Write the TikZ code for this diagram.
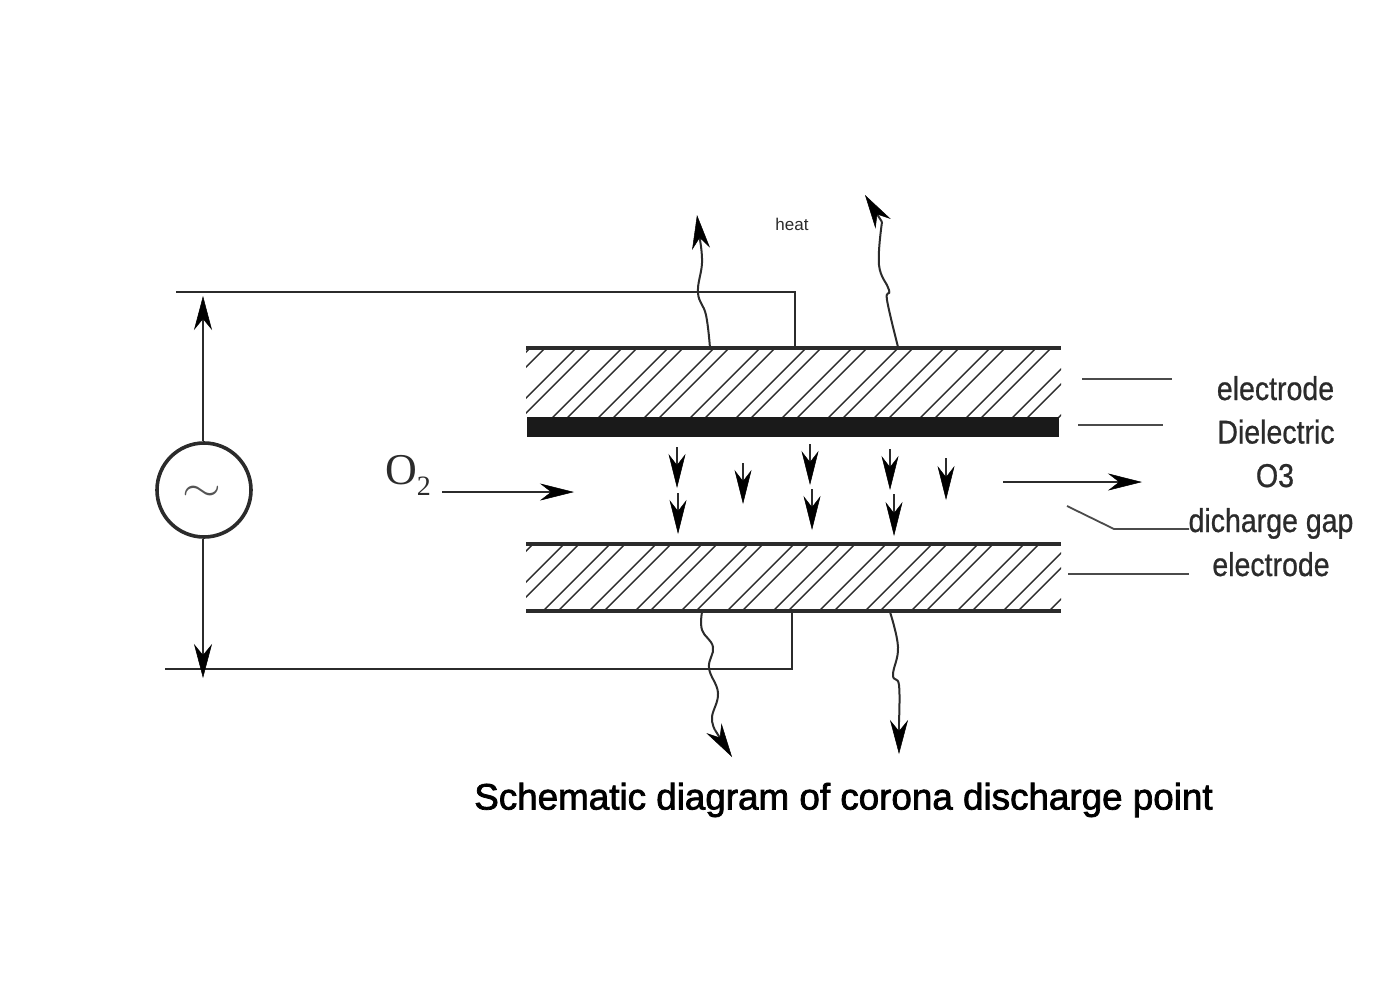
\documentclass[tikz,border=0pt]{standalone}
\usepackage{fontspec}
\setmainfont{Liberation Sans}
\newfontfamily\serifface{Liberation Serif}
\newfontfamily\capface[FakeBold=2]{Liberation Sans}
\newfontfamily\partface[FakeBold=0.8]{Liberation Sans}
\usetikzlibrary{arrows.meta}
\definecolor{ink}{HTML}{2B2B2B}
\tikzset{
  wire/.style={draw=ink,line width=2pt},
  plate/.style={draw=ink,line width=3.5pt},
  hatch/.style={draw=ink,line width=1.4pt},
  bighead/.style={wire,-{Stealth[length=34pt,width=18pt,inset=11pt,color=black,fill=black,line width=0.5pt]}},
  smallhead/.style={wire,-{Stealth[length=34pt,width=17pt,inset=11pt,color=black,fill=black,line width=0.5pt]}},
  sidehead/.style={wire,-{Stealth[length=34pt,width=17pt,inset=11pt,color=black,fill=black,line width=0.5pt]}},
  wavy/.style={draw=ink,line width=2pt},
  leader/.style={draw=ink!85,line width=1.8pt},
  partlabel/.style={font=\partface\fontsize{33}{36}\selectfont,text=ink,inner sep=0pt,anchor=base},
}
\newcommand{\narrowed}[1]{\scalebox{0.864}[1]{#1}}
\begin{document}
\begin{tikzpicture}[x=1pt,y=-1pt]
\useasboundingbox (0,0) rectangle (1397,988);
% source
\node[circle,draw=ink,line width=3.6pt,minimum size=94pt,inner sep=0pt,text=ink!80] (src) at (204,490) {};
\node[text=ink!80,inner sep=0pt] (tilde) at (202,494) {\scalebox{5}[4.2]{$\sim$}};
\coordinate (topL) at (176,292);
\coordinate (topC) at (795,292);
\coordinate (topE) at (795,348);
\coordinate (botL) at (165,669);
\coordinate (botC) at (792,669);
\coordinate (botE) at (792,611);
\draw[wire] (topL) -- (topC) -- (topE);
\draw[wire] (botL) -- (botC) -- (botE);
\coordinate (upT) at (203,296);
\coordinate (dnT) at (203,678);
\draw[bighead] (upT |- src.north) -- (upT);
\draw[bighead] (dnT |- src.south) -- (dnT);
% upper electrode hatch
\begin{scope}
\clip (526,348) rectangle (1061,417);
\foreach \k in {-2,...,12}{
  \pgfmathsetmacro{\xa}{552+46*\k}
  \pgfmathsetmacro{\xb}{567+46*\k}
  \draw[hatch] (\xa,418) -- ++(72,-72);
  \draw[hatch] (\xb,418) -- ++(72,-72);
}
\end{scope}
\draw[plate] (526,348) -- (1061,348);
\fill[ink!60!black] (527,417) rectangle (1059,437);
% lower electrode hatch
\begin{scope}
\clip (526,544) rectangle (1061,611);
\foreach \k in {-5,...,9}{
  \pgfmathsetmacro{\xa}{680+46*\k}
  \pgfmathsetmacro{\xb}{695+46*\k}
  \draw[hatch] (\xa,612) -- ++(72,-72);
  \draw[hatch] (\xb,612) -- ++(72,-72);
}
\end{scope}
\draw[plate] (526,544) -- (1061,544);
\draw[plate] (526,611) -- (1061,611);
% heat arrows
\draw[wavy] plot[smooth,tension=0.7] coordinates {(710,348) (706,315) (698,293) (702,263) (700,240)};
\draw[bighead] (700,240) -- (697,215);
\draw[wavy] plot[smooth,tension=0.7] coordinates {(898,347) (887,300) (889,290) (879,265) (882,222)};
\draw[bighead] (882,222) -- (865,195);
\draw[wavy] plot[smooth,tension=0.7] coordinates {(702,612) (702,630) (713,647) (709,668) (718,693) (712,717) (715,730)};
\draw[bighead] (715,730) -- (732,757);
\draw[wavy] plot[smooth,tension=0.7] coordinates {(890,612) (898,647) (893,675) (899,685) (899,722)};
\draw[bighead] (899,722) -- (899,754);
% discharge arrows
\draw[smallhead] (677,447) -- (677,488);
\draw[smallhead] (678,493) -- (678,534);
\draw[smallhead] (743,463) -- (743,504);
\draw[smallhead] (810,444) -- (810,485);
\draw[smallhead] (812,489) -- (812,530);
\draw[smallhead] (890,449) -- (890,490);
\draw[smallhead] (894,494) -- (894,536);
\draw[smallhead] (946,458) -- (946,500);
% flow arrows
\node[font=\fontsize{44}{46}\selectfont\serifface,text=ink,inner sep=0pt,anchor=base west] (o2) at (385,484) {O\raisebox{-11pt}{\fontsize{28}{30}\selectfont 2}};
\coordinate (inS) at (442,492);
\coordinate (inT) at (574,492);
\draw[sidehead] (inS) -- (inT);
\coordinate (outS) at (1003,482);
\coordinate (outT) at (1142,482);
\draw[sidehead] (outS) -- (outT);
% labels
\node[partlabel] (l1) at (1275.5,400) {\narrowed{electrode}};
\node[partlabel] (l2) at (1276,443.5) {\narrowed{Dielectric}};
\node[partlabel] (l3) at (1275,487) {\narrowed{O3}};
\node[partlabel] (l4) at (1271,532) {\narrowed{dicharge gap}};
\node[partlabel] (l5) at (1271,576) {\narrowed{electrode}};
\coordinate (p1) at (1082,379);
\coordinate (q1) at (1172,379);
\draw[leader] (p1) -- (q1);
\coordinate (p2) at (1078,425);
\coordinate (q2) at (1163,425);
\draw[leader] (p2) -- (q2);
\coordinate (p4) at (1067,506);
\coordinate (k4) at (1114,529);
\coordinate (q4) at (1189,529);
\draw[leader] (p4) -- (k4) -- (q4);
\coordinate (p5) at (1068,574);
\coordinate (q5) at (1189,574);
\draw[leader] (p5) -- (q5);
\node[font=\fontsize{17}{19}\selectfont,text=ink,inner sep=0pt] (heat) at (792,224) {heat};
\node[font=\capface\fontsize{36.8}{40}\selectfont,text=black,inner sep=0pt] (cap) at (843.5,800) {Schematic diagram of corona discharge point};
\end{tikzpicture}
\end{document}
